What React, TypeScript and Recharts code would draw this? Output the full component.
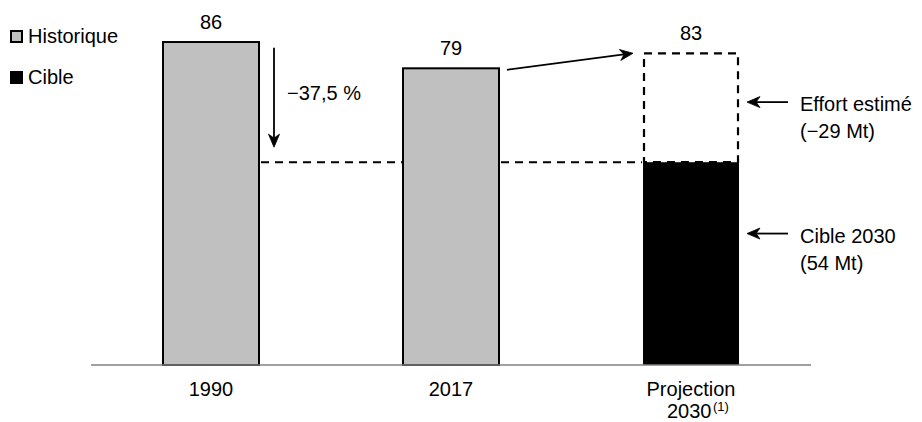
import React from "react";
import { BarChart, Bar, XAxis, YAxis, ReferenceLine, ReferenceDot } from "recharts";

const FONT = "'Liberation Sans', Arial, Helvetica, sans-serif";

// values (Mt)
const categories = ["1990", "2017", "Projection 2030"];
const historique = [86, 79, null];
const cible = [null, null, 54];
const effort = [null, null, 29];
const valueLabels = [86, 79, 83];

const tickLines = [["1990"], ["2017"], ["Projection", "2030"]];
const tickNotes = [null, null, "(1)"];

const legendNames = ["Historique", "Cible"];
const legendColors = ["#c0c0c0", "#000000"];

const reductionText = "−37,5 %";
const effortText = ["Effort estimé", "(−29 Mt)"];
const cibleText = ["Cible 2030", "(54 Mt)"];

const data = categories.map((name, i) => ({
  name,
  historique: historique[i],
  cible: cible[i],
  effort: effort[i],
  label: valueLabels[i],
}));

// line + stealth-ish arrow head ending at (x2, y2)
function Arrow({ x1, y1, x2, y2 }: { x1: number; y1: number; x2: number; y2: number }) {
  const dx = x2 - x1;
  const dy = y2 - y1;
  const len = Math.sqrt(dx * dx + dy * dy) || 1;
  const ux = dx / len;
  const uy = dy / len;
  const nx = -uy;
  const ny = ux;
  const hl = 13;
  const hw = 5.5;
  const bx = x2 - ux * hl;
  const by = y2 - uy * hl;
  const notchX = x2 - ux * hl * 0.7;
  const notchY = y2 - uy * hl * 0.7;
  const d = `M${x2},${y2} L${bx + nx * hw},${by + ny * hw} L${notchX},${notchY} L${bx - nx * hw},${by - ny * hw} Z`;
  return (
    <g>
      <line x1={x1} y1={y1} x2={notchX} y2={notchY} stroke="#000" strokeWidth={1.8} />
      <path d={d} fill="#000" stroke="#000" strokeWidth={0.8} strokeLinejoin="miter" />
    </g>
  );
}

const HistShape = (p: any) => {
  const { x, y, width, height, payload } = p;
  if (!height || height < 1) return <g />;
  return (
    <g>
      <rect x={x} y={y} width={width} height={height} fill="#c0c0c0" stroke="#000" strokeWidth={2} />
      <text x={x + width / 2} y={y - 13} textAnchor="middle" fontSize={20} fontFamily={FONT} fill="#000">
        {payload.label}
      </text>
    </g>
  );
};

const CibleShape = (p: any) => {
  const { x, y, width, height } = p;
  if (!height || height < 1) return <g />;
  return <rect x={x} y={y} width={width} height={height} fill="#000" />;
};

const EffortShape = (p: any) => {
  const { x, y, width, height, payload } = p;
  if (!height || height < 1) return <g />;
  return (
    <g>
      <rect
        x={x + 1}
        y={y}
        width={width - 2}
        height={height}
        fill="none"
        stroke="#000"
        strokeWidth={2.2}
        strokeDasharray="8 6"
      />
      <text x={x + width / 2} y={y - 13} textAnchor="middle" fontSize={20} fontFamily={FONT} fill="#000">
        {payload.label}
      </text>
    </g>
  );
};

const Tick = (p: any) => {
  const { x, y, index } = p;
  const lines = tickLines[index] || [];
  const note = tickNotes[index];
  return (
    <g>
      <text x={x} y={y + 31} textAnchor="middle" fontSize={20} fontFamily={FONT} fill="#000">
        {lines[0]}
      </text>
      {lines[1] && (
        <text x={x - 24} y={y + 53} textAnchor="start" fontSize={20} fontFamily={FONT} fill="#000">
          {lines[1]}
        </text>
      )}
      {note && (
        <text x={x + 22} y={y + 46} textAnchor="start" fontSize={13} fontFamily={FONT} fill="#000">
          {note}
        </text>
      )}
    </g>
  );
};

// dashed level of the 2030 target, running between the bars
const Connector = (p: any) => {
  const { x1, y1, x2 } = p;
  const band = (x2 - x1) / 2;
  const half = band * 0.2;
  const mid = (x1 + x2) / 2;
  const common = { stroke: "#000", strokeWidth: 2, strokeDasharray: "8 6" };
  return (
    <g>
      <line x1={x1 + half + 2} y1={y1} x2={mid - half - 1} y2={y1} {...common} />
      <line x1={mid + half + 2} y1={y1} x2={x2 - half - 1} y2={y1} {...common} />
    </g>
  );
};

const DownArrow = (p: any) => {
  const { x1, y1, y2 } = p;
  const ax = x1 + 63;
  return (
    <g>
      <Arrow x1={ax} y1={y1} x2={ax} y2={y2} />
      <text x={ax + 13} y={(y1 + y2) / 2 + 3} fontSize={20} fontFamily={FONT} fill="#000">
        {reductionText}
      </text>
    </g>
  );
};

const TrendArrow = (p: any) => {
  const { x1, y1, x2, y2 } = p;
  return <Arrow x1={x1 + 56} y1={y1 + 1.5} x2={x2 - 58} y2={y2} />;
};

const sideNote = (lines: string[]) => (p: any) => {
  const { cx, cy } = p;
  return (
    <g>
      <Arrow x1={cx + 97} y1={cy} x2={cx + 56} y2={cy} />
      <text x={cx + 109} y={cy + 9} fontSize={20} fontFamily={FONT} fill="#000">
        {lines[0]}
      </text>
      <text x={cx + 109} y={cy + 36} fontSize={20} fontFamily={FONT} fill="#000">
        {lines[1]}
      </text>
    </g>
  );
};

export default function App() {
  return (
    <div style={{ position: "relative", width: 922, height: 422, fontFamily: FONT, background: "#fff" }}>
      <style>{"body{margin:0;overflow:hidden;background:#fff}"}</style>
      <BarChart
        width={922}
        height={422}
        data={data}
        margin={{ top: 27, right: 111, bottom: 0, left: 91 }}
        barCategoryGap="30%"
      >
        <XAxis
          dataKey="name"
          height={57}
          interval={0}
          tickLine={false}
          tickSize={0}
          tickMargin={0}
          axisLine={{ stroke: "#808080", strokeWidth: 1.5 }}
          tick={<Tick />}
        />
        <YAxis hide type="number" domain={[0, 90]} />
        <Bar dataKey="historique" stackId="a" shape={<HistShape />} isAnimationActive={false} />
        <Bar dataKey="cible" stackId="a" shape={<CibleShape />} isAnimationActive={false} />
        <Bar dataKey="effort" stackId="a" shape={<EffortShape />} isAnimationActive={false} />

        <ReferenceLine
          segment={[
            { x: categories[0], y: cible[2] as number },
            { x: categories[2], y: cible[2] as number },
          ]}
          shape={<Connector />}
        />
        <ReferenceLine
          segment={[
            { x: categories[0], y: 84.5 },
            { x: categories[0], y: 58 },
          ]}
          shape={<DownArrow />}
        />
        <ReferenceLine
          segment={[
            { x: categories[1], y: valueLabels[1] },
            { x: categories[2], y: valueLabels[2] },
          ]}
          shape={<TrendArrow />}
        />
        <ReferenceDot x={categories[2]} y={70} shape={sideNote(effortText)} />
        <ReferenceDot x={categories[2]} y={35} shape={sideNote(cibleText)} />
      </BarChart>

      {/* legend */}
      {legendNames.map((n, i) => (
        <div
          key={n}
          style={{
            position: "absolute",
            left: 10,
            top: 24 + i * 41,
            height: 24,
            display: "flex",
            alignItems: "center",
            fontSize: 20,
            color: "#000",
          }}
        >
          <span
            style={{
              display: "inline-block",
              width: i === 0 ? 9 : 13,
              height: i === 0 ? 9 : 13,
              background: legendColors[i],
              border: i === 0 ? "2px solid #000" : "none",
              marginRight: 5,
            }}
          />
          {n}
        </div>
      ))}
    </div>
  );
}
